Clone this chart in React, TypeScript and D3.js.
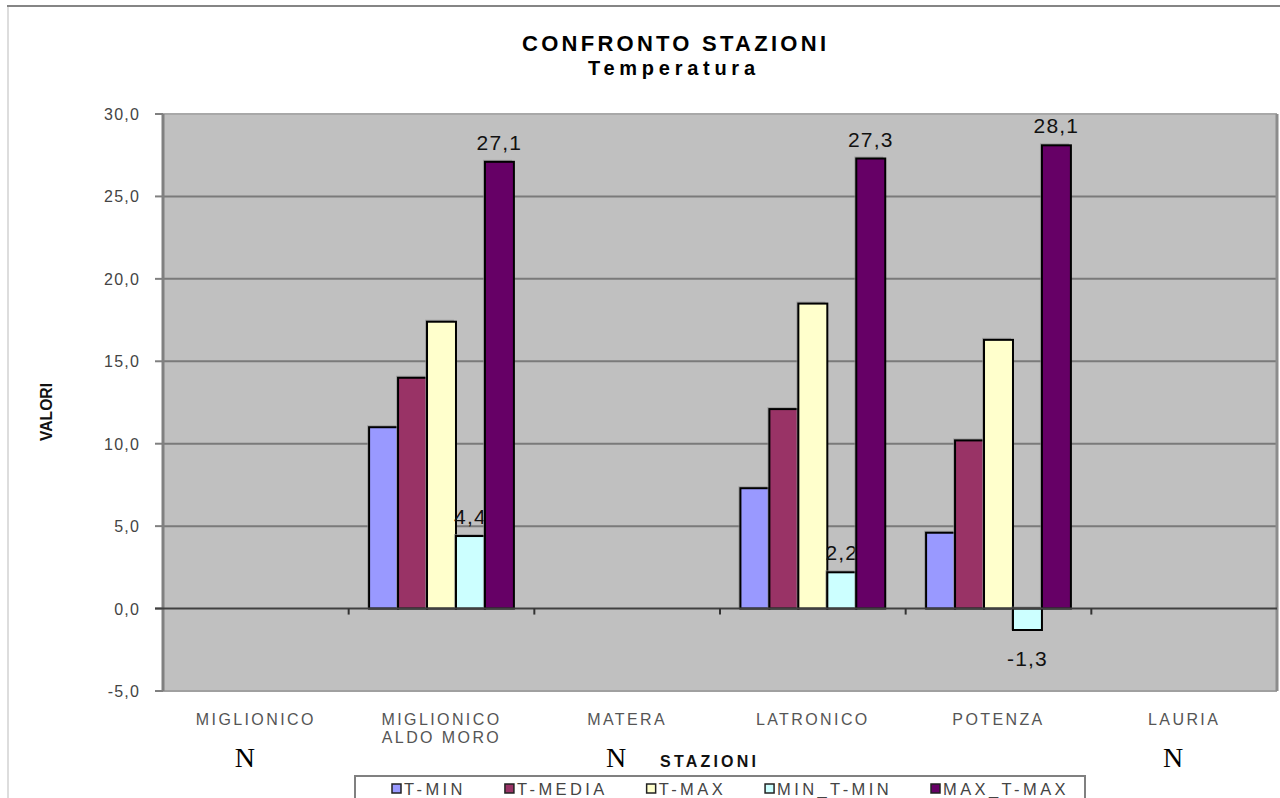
import React, { useEffect, useRef } from "react";
import * as d3 from "d3";

const categories: string[][] = [
  ["MIGLIONICO"],
  ["MIGLIONICO", "ALDO MORO"],
  ["MATERA"],
  ["LATRONICO"],
  ["POTENZA"],
  ["LAURIA"],
];
const noData: boolean[] = [true, false, true, false, false, true];

const seriesNames = ["T-MIN", "T-MEDIA", "T-MAX", "MIN_T-MIN", "MAX_T-MAX"];
const seriesColors = ["#9999ff", "#993366", "#ffffcc", "#ccffff", "#660066"];
const showLabels = [false, false, false, true, true];

const tMin: (number | null)[] = [null, 11.0, null, 7.3, 4.6, null];
const tMedia: (number | null)[] = [null, 14.0, null, 12.1, 10.2, null];
const tMax: (number | null)[] = [null, 17.4, null, 18.5, 16.3, null];
const minTMin: (number | null)[] = [null, 4.4, null, 2.2, -1.3, null];
const maxTMax: (number | null)[] = [null, 27.1, null, 27.3, 28.1, null];
const seriesValues = [tMin, tMedia, tMax, minTMin, maxTMax];

const yTicks = [-5, 0, 5, 10, 15, 20, 25, 30];

const fmt = (v: number) => v.toFixed(1).replace(".", ",");

export default function App() {
  const ref = useRef<SVGSVGElement | null>(null);

  useEffect(() => {
    const svg = d3.select(ref.current);
    svg.selectAll("*").remove();
    const W = 1280, H = 798;
    const left = 163, right = 1277, top = 114, bottom = 691;
    const sans = "'Liberation Sans', Arial, sans-serif";

    const y = d3.scaleLinear().domain([-5, 30]).range([bottom, top]);
    const x = d3
      .scaleBand<number>()
      .domain(categories.map((_, i) => i))
      .range([left, right])
      .paddingInner(0)
      .paddingOuter(0);
    const bw = x.bandwidth();
    const inner = d3
      .scaleBand<number>()
      .domain(seriesNames.map((_, i) => i))
      .range([bw * 0.11, bw * 0.89])
      .padding(0);

    svg.append("rect").attr("width", W).attr("height", H).attr("fill", "#ffffff");
    svg.append("line").attr("x1", 7).attr("x2", W).attr("y1", 6).attr("y2", 6)
      .attr("stroke", "#858585").attr("stroke-width", 2);
    svg.append("line").attr("x1", 8).attr("x2", 8).attr("y1", 7).attr("y2", H)
      .attr("stroke", "#dddddd").attr("stroke-width", 2);

    svg.append("rect").attr("x", left).attr("y", top)
      .attr("width", right - left).attr("height", bottom - top).attr("fill", "#c0c0c0");

    yTicks.filter((t) => t !== -5 && t !== 0 && t !== 30).forEach((t) => {
      svg.append("line").attr("x1", left).attr("x2", right)
        .attr("y1", y(t)).attr("y2", y(t))
        .attr("stroke", "#7a7a7a").attr("stroke-width", 2);
    });
    svg.append("line").attr("x1", left).attr("x2", right).attr("y1", top).attr("y2", top)
      .attr("stroke", "#a8a8a8").attr("stroke-width", 2);
    svg.append("line").attr("x1", left).attr("x2", right).attr("y1", bottom).attr("y2", bottom)
      .attr("stroke", "#a0a0a0").attr("stroke-width", 2);
    svg.append("line").attr("x1", right).attr("x2", right).attr("y1", top).attr("y2", bottom)
      .attr("stroke", "#8c8c8c").attr("stroke-width", 3);

    svg.append("line").attr("x1", left).attr("x2", left).attr("y1", top).attr("y2", bottom)
      .attr("stroke", "#808080").attr("stroke-width", 3);
    yTicks.forEach((t) => {
      svg.append("line").attr("x1", left - 8).attr("x2", left).attr("y1", y(t)).attr("y2", y(t))
        .attr("stroke", "#808080").attr("stroke-width", 2);
      svg.append("text").attr("x", 140).attr("y", y(t) + 6)
        .attr("text-anchor", "end").attr("font-family", sans).attr("font-size", 16)
        .attr("letter-spacing", 1.2).attr("fill", "#444").text(fmt(t));
    });

    seriesValues.forEach((vals, si) => {
      vals.forEach((v, ci) => {
        if (v === null) return;
        const bx = (x(ci) as number) + (inner(si) as number);
        const w = inner.bandwidth();
        const y0 = y(0), y1 = y(v);
        svg.append("rect")
          .attr("x", bx - 2).attr("y", Math.min(y0, y1) - 2)
          .attr("width", w).attr("height", Math.abs(y1 - y0) + 2)
          .attr("fill", "#8a8a8a").attr("opacity", 0.6);
        svg.append("rect")
          .attr("x", bx).attr("y", Math.min(y0, y1))
          .attr("width", w).attr("height", Math.abs(y1 - y0))
          .attr("fill", seriesColors[si]).attr("stroke", "#000").attr("stroke-width", 2);
      });
      if (showLabels[si]) {
        vals.forEach((v, ci) => {
          if (v === null) return;
          const cx = (x(ci) as number) + (inner(si) as number) + inner.bandwidth() / 2;
          const ly = v >= 0 ? y(v) - 12 : y(v) + 36;
          svg.append("text").attr("x", cx).attr("y", ly)
            .attr("text-anchor", "middle").attr("font-family", sans).attr("font-size", 21)
            .attr("letter-spacing", 1.2).attr("fill", "#111").text(fmt(v));
        });
      }
    });

    svg.append("line").attr("x1", left - 8).attr("x2", right).attr("y1", y(0)).attr("y2", y(0))
      .attr("stroke", "#404040").attr("stroke-width", 2);
    categories.forEach((_, i) => {
      if (i === 0) return;
      const tx = x(i) as number;
      svg.append("line").attr("x1", tx).attr("x2", tx).attr("y1", y(0)).attr("y2", y(0) + 6)
        .attr("stroke", "#333").attr("stroke-width", 2);
    });

    categories.forEach((lines, i) => {
      const cx = (x(i) as number) + bw / 2;
      lines.forEach((ln, li) => {
        svg.append("text").attr("x", cx).attr("y", 725 + li * 18)
          .attr("text-anchor", "middle").attr("font-family", sans).attr("font-size", 16)
          .attr("letter-spacing", 2.4).attr("fill", "#555").text(ln);
      });
      if (noData[i]) {
        svg.append("text").attr("x", cx - 11).attr("y", 767)
          .attr("text-anchor", "middle")
          .attr("font-family", "'Liberation Serif', 'Times New Roman', serif")
          .attr("font-size", 28).attr("fill", "#000").text("N");
      }
    });

    svg.append("text").attr("x", 522).attr("y", 51)
      .attr("font-family", sans).attr("font-weight", "bold").attr("font-size", 22)
      .attr("textLength", 304).attr("lengthAdjust", "spacing").attr("fill", "#000")
      .text("CONFRONTO STAZIONI");
    svg.append("text").attr("x", 588).attr("y", 75)
      .attr("font-family", sans).attr("font-weight", "bold").attr("font-size", 20)
      .attr("textLength", 167).attr("lengthAdjust", "spacing").attr("fill", "#000")
      .text("Temperatura");
    svg.append("text").attr("transform", "translate(52,441) rotate(-90)")
      .attr("font-family", sans).attr("font-weight", "bold").attr("font-size", 16)
      .attr("textLength", 58).attr("lengthAdjust", "spacingAndGlyphs").attr("fill", "#111")
      .text("VALORI");
    svg.append("text").attr("x", 660).attr("y", 767)
      .attr("font-family", sans).attr("font-weight", "bold").attr("font-size", 16)
      .attr("textLength", 96).attr("lengthAdjust", "spacing").attr("fill", "#111")
      .text("STAZIONI");

    svg.append("rect").attr("x", 355).attr("y", 776).attr("width", 730).attr("height", 40)
      .attr("fill", "#fff").attr("stroke", "#808080").attr("stroke-width", 2);
    const ls = 3.4;
    let lx = 392;
    seriesNames.forEach((name, i) => {
      svg.append("rect").attr("x", lx).attr("y", 784).attr("width", 9).attr("height", 9)
        .attr("fill", seriesColors[i]).attr("stroke", "#222").attr("stroke-width", 1.5);
      const t = svg.append("text").attr("x", lx + 12).attr("y", 795)
        .attr("font-family", sans).attr("font-size", 16.5).attr("letter-spacing", ls)
        .attr("fill", "#444").text(name);
      const node = t.node() as SVGTextElement;
      const tw = node.getBBox().width;
      lx = lx + 12 + tw + 39;
    });
  }, []);

  return <svg ref={ref} width={1280} height={798} style={{ display: "block", position: "absolute", left: 0, top: 0 }} />;
}
